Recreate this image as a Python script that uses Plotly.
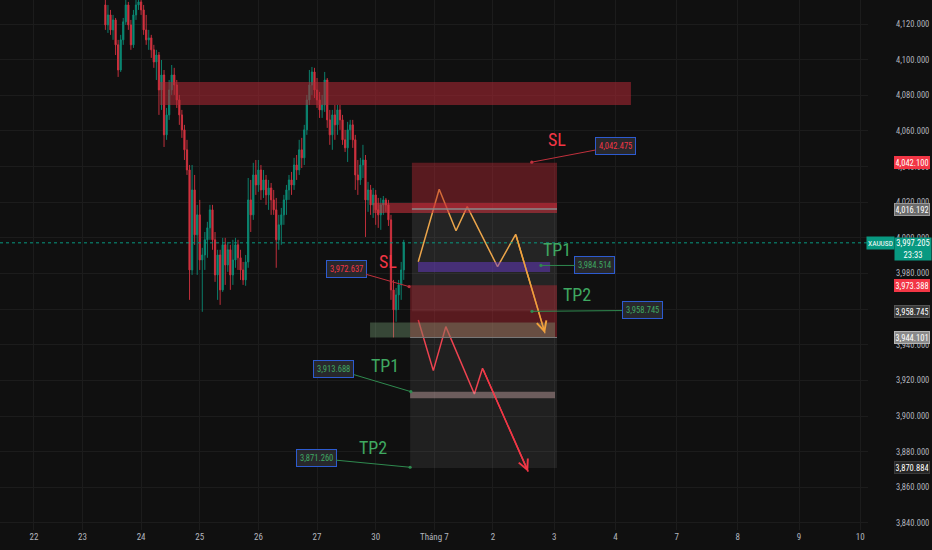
import plotly.graph_objects as go

# ---------------- data ----------------
# hourly bars (index = hours since the "22" session open)
bar_start = 28
opens = [
    4130.7, 4119.5, 4125.1, 4116.7, 4122.3, 4108.3, 4094.2, 4111.1, 4121.2, 4130.7,
    4119.5, 4108.3, 4125.1, 4130.7, 4132.4, 4127.9, 4116.7, 4111.1, 4112.2, 4105.5,
    4098.7, 4102.6, 4083.0, 4091.4, 4057.8, 4069.0, 4083.0, 4091.4, 4085.8, 4077.4,
    4069.0, 4060.6, 4049.4, 4038.1, 3982.0, 4026.9, 4001.7, 4012.9, 3987.6, 3990.4,
    3998.9, 4005.6, 4015.7, 3998.9, 3979.2, 3990.4, 3970.8, 3996.1, 3984.8, 3993.3,
    3979.2, 3987.6, 3996.1, 3988.8, 3982.0, 3976.4, 3986.5, 4021.3, 4012.9, 4035.3,
    4029.7, 4038.1, 4026.9, 4032.5, 4024.1, 4028.0, 4021.3, 4015.7, 3998.9, 4007.3,
    4012.9, 4021.3, 4026.9, 4032.5, 4029.7, 4040.9, 4038.1, 4049.4, 4044.9, 4060.6,
    4077.4, 4085.8, 4093.1, 4083.0, 4077.4, 4071.8, 4074.6, 4088.6, 4066.2, 4057.8,
    4069.0, 4063.4, 4071.8, 4066.2, 4055.0, 4050.5, 4060.6, 4063.4, 4055.0, 4035.3,
    4032.5, 4040.9, 4043.7, 4021.3, 4026.9, 4018.5, 4024.1, 4015.7, 4012.9, 4018.5,
    4021.3, 4018.5, 4010.1, 3970.8, 3959.6, 3968.0, 3973.6, 3982.0,
]
highs = [
    4136.3, 4130.7, 4127.9, 4125.1, 4123.4, 4111.1, 4113.9, 4123.4, 4135.2, 4132.4,
    4122.3, 4127.9, 4134.6, 4136.3, 4135.2, 4130.7, 4125.1, 4116.7, 4113.9, 4108.3,
    4105.5, 4104.3, 4099.8, 4094.2, 4072.9, 4088.6, 4097.0, 4095.4, 4088.6, 4080.2,
    4071.8, 4063.4, 4055.0, 4040.9, 4040.9, 4035.3, 4018.5, 4021.3, 3994.4, 4003.3,
    4009.0, 4018.5, 4018.5, 4003.3, 3993.3, 3993.3, 4000.0, 4000.0, 3997.7, 3996.1,
    3998.9, 4000.0, 3998.9, 3993.3, 3986.5, 3990.4, 4033.6, 4032.5, 4042.1, 4043.7,
    4043.7, 4040.9, 4038.1, 4035.3, 4032.5, 4030.8, 4026.9, 4022.4, 4012.9, 4016.8,
    4024.1, 4029.7, 4035.3, 4037.0, 4044.9, 4046.5, 4055.0, 4056.1, 4063.4, 4080.2,
    4094.2, 4095.9, 4095.4, 4089.7, 4081.9, 4080.2, 4093.1, 4089.7, 4071.8, 4071.8,
    4074.6, 4074.6, 4074.6, 4069.0, 4060.6, 4065.1, 4066.2, 4066.2, 4057.8, 4043.7,
    4044.9, 4052.2, 4046.5, 4031.4, 4029.7, 4028.0, 4026.9, 4022.4, 4022.4, 4023.5,
    4022.4, 4021.3, 4012.9, 3976.4, 3971.9, 3976.4, 3986.5, 3998.9,
]
lows = [
    4116.7, 4115.0, 4113.9, 4111.1, 4102.6, 4090.3, 4093.1, 4108.3, 4119.5, 4116.7,
    4105.5, 4106.6, 4122.3, 4127.9, 4125.1, 4113.9, 4108.3, 4105.5, 4101.0, 4095.4,
    4088.6, 4069.0, 4071.8, 4051.0, 4055.0, 4066.2, 4080.2, 4080.2, 4072.9, 4063.4,
    4056.1, 4043.7, 4035.3, 3965.2, 3979.2, 3996.1, 3979.2, 3982.0, 3958.5, 3982.0,
    3988.8, 3998.9, 3993.3, 3975.3, 3965.2, 3962.4, 3969.7, 3973.6, 3980.9, 3970.8,
    3973.6, 3983.2, 3982.0, 3976.4, 3973.6, 3973.1, 3983.2, 4003.3, 4010.1, 4024.1,
    4025.8, 4021.3, 4022.4, 4018.5, 4015.7, 4012.9, 4012.9, 3983.2, 3993.3, 3996.1,
    4007.3, 4012.9, 4021.3, 4024.1, 4026.9, 4032.5, 4035.3, 4039.2, 4040.9, 4057.8,
    4074.6, 4080.2, 4078.5, 4072.9, 4067.3, 4067.3, 4070.7, 4061.7, 4052.2, 4049.4,
    4055.0, 4057.8, 4060.6, 4052.2, 4048.2, 4042.6, 4055.0, 4050.5, 4026.9, 4024.1,
    4029.7, 4033.6, 4000.5, 4014.6, 4012.9, 4011.2, 4007.3, 4005.6, 4004.5, 4012.9,
    4014.6, 4006.7, 3965.2, 3944.1, 3952.9, 3959.6, 3965.2, 3976.4,
]
closes = [
    4119.5, 4125.1, 4116.7, 4122.3, 4108.3, 4094.2, 4111.1, 4121.2, 4130.7, 4119.5,
    4108.3, 4125.1, 4130.7, 4132.4, 4127.9, 4116.7, 4111.1, 4112.2, 4105.5, 4098.7,
    4102.6, 4083.0, 4091.4, 4057.8, 4069.0, 4083.0, 4091.4, 4085.8, 4077.4, 4069.0,
    4060.6, 4049.4, 4038.1, 3982.0, 4026.9, 4001.7, 4012.9, 3987.6, 3990.4, 3998.9,
    4005.6, 4015.7, 3998.9, 3979.2, 3990.4, 3970.8, 3996.1, 3984.8, 3993.3, 3979.2,
    3987.6, 3996.1, 3988.8, 3982.0, 3976.4, 3986.5, 4021.3, 4012.9, 4035.3, 4029.7,
    4038.1, 4026.9, 4032.5, 4024.1, 4028.0, 4021.3, 4015.7, 3998.9, 4007.3, 4012.9,
    4021.3, 4026.9, 4032.5, 4029.7, 4040.9, 4038.1, 4049.4, 4044.9, 4060.6, 4077.4,
    4085.8, 4093.1, 4083.0, 4077.4, 4071.8, 4074.6, 4088.6, 4066.2, 4057.8, 4069.0,
    4063.4, 4071.8, 4066.2, 4055.0, 4050.5, 4060.6, 4063.4, 4055.0, 4035.3, 4032.5,
    4040.9, 4043.7, 4021.3, 4026.9, 4018.5, 4024.1, 4015.7, 4012.9, 4018.5, 4021.3,
    4018.5, 4010.1, 3970.8, 3959.6, 3968.0, 3973.6, 3982.0, 3997.2,
]
bars = list(range(bar_start, bar_start + len(closes)))

# time axis
day_ticks = [0, 19, 42, 65, 88, 111, 134, 157, 180, 204, 228, 252, 276, 300, 324]
day_labels = ["22", "23", "24", "25", "26", "27", "30", "Tháng 7", "2", "3", "4", "7", "8", "9", "10"]
price_ticks = [3840, 3860, 3880, 3900, 3920, 3940, 3960, 3980, 4000, 4020, 4040, 4060, 4080, 4100, 4120]

# levels
last_price = 3997.205
countdown = "23:33"
symbol = "XAUUSD"
res_zone = (4074.6, 4087.5)
small_zone = (4014.0, 4019.6)
green_zone = (3944.1, 3952.5)
pos1_stop, pos1_entry, pos1_target = 4042.100, 4016.192, 3958.745
pos2_stop, pos2_entry, pos2_target = 3973.388, 3944.101, 3870.884
tp1_band = (3980.9, 3986.5)
tp1b_band = (3910.0, 3913.7)

# scenario paths (bar index, price)
path1_x = [150.7, 158.9, 165.5, 169.9, 181.8, 188.9, 200.4]
path1_y = [3986.6, 4027.3, 4004.0, 4017.5, 3983.8, 4002.0, 3946.4]
path2_x = [150.7, 156.6, 161.5, 172.7, 175.9, 193.8]
path2_y = [3953.9, 3925.5, 3950.2, 3912.4, 3926.8, 3868.8]

# callouts: price, anchor bar, text colour kind
callout_prices = [4042.475, 3984.514, 3958.745, 3972.637, 3913.688, 3871.260]
callout_bars = [195.2, 198.8, 195.3, 147.1, 147.8, 147.5]
callout_kind = ["sl", "tp", "tp", "sl", "tp", "tp"]
callout_offsets = [(84, -16), (54, 0), (110, -1), (-63, -18), (-77, -23), (-94, -9)]

# handwritten labels
label_texts = ["SL", "TP1", "TP2", "SL", "TP1", "TP2"]
label_bars = [205.1, 205.1, 212.9, 138.8, 137.6, 132.9]
label_prices = [4055.0, 3993.2, 3968.0, 3986.5, 3928.1, 3882.1]

# axis tags
tag_prices = [4042.100, 4016.192, 3973.388, 3958.745, 3944.101, 3870.884]
tag_bg = ["#f23645", "#6a6a6a", "#f23645", "#3a3a3a", "#8a8a8a", "#262626"]
tag_border = ["#f23645", "#9a9a9a", "#f23645", "#555555", "#b5b5b5", "#3a3a3a"]

# ---------------- styling ----------------
BG = "#101010"
GRID = "#1c1c1c"
UP = "#089981"
UP_C = "#0b8a75"
DN_C = "#d3323f"
TXT = "#b2b5be"
GREEN_TXT = "#3fa861"
RED_TXT = "#f23645"
NARROW = "Liberation Sans Narrow, Roboto Condensed, Roboto, sans-serif"
HAND = "Liberation Sans Narrow, Roboto Condensed, Roboto, sans-serif"

x_lo, x_hi = -13.33, 327.06
y_lo, y_hi = 3836.06, 4133.47

fig = go.Figure()

fig.add_trace(go.Candlestick(
    x=bars, open=opens, high=highs, low=lows, close=closes,
    increasing=dict(line=dict(color=UP_C, width=0.9), fillcolor=UP_C),
    decreasing=dict(line=dict(color=DN_C, width=0.9), fillcolor=DN_C),
    whiskerwidth=0, hoverinfo="skip", showlegend=False,
))

shapes = []
def rect(x0, x1, y0, y1, fill, layer="above"):
    shapes.append(dict(type="rect", xref="x", yref="y", x0=x0, x1=x1, y0=y0, y1=y1,
                       fillcolor=fill, line=dict(width=0), layer=layer))

def hline(x0, x1, y, color, width=1, dash="solid", xref="x"):
    shapes.append(dict(type="line", xref=xref, yref="y", x0=x0, x1=x1, y0=y, y1=y,
                       line=dict(color=color, width=width, dash=dash), layer="above"))

# resistance zone
rect(49.4, 234.1, res_zone[0], res_zone[1], "rgba(178,40,52,0.55)")
# position 1 (short)
rect(148.2, 205.1, pos1_entry, pos1_stop, "rgba(178,40,52,0.45)")
rect(148.2, 205.1, pos1_target, pos1_entry, "rgba(200,200,200,0.11)")
# position 2 (short)
rect(147.5, 205.1, pos2_entry, pos2_stop, "rgba(178,40,52,0.45)")
rect(147.5, 205.1, pos2_target, pos2_entry, "rgba(200,200,200,0.09)")
# small red zone around entry 1
rect(132.9, 205.1, small_zone[0], small_zone[1], "rgba(210,50,62,0.55)")
hline(148.2, 205.1, pos1_entry, "#8a8a8a", 1.5)
# green zone
rect(131.8, 204.3, green_zone[0], green_zone[1], "rgba(140,190,140,0.32)")
hline(147.5, 205.1, pos2_entry, "#7a7a7a", 1)
# TP bands
rect(150.6, 202.4, tp1_band[0], tp1_band[1], "rgba(103,58,200,0.50)")
rect(147.5, 204.3, tp1b_band[0], tp1b_band[1], "rgba(225,185,185,0.40)")
# current price dotted line
hline(0, 1, last_price, UP, 1, "dot", xref="paper")

annotations = []

# scenario paths
fig.add_trace(go.Scatter(x=path1_x, y=path1_y, mode="lines",
                         line=dict(color="#f0a13c", width=1.5), hoverinfo="skip", showlegend=False))
fig.add_trace(go.Scatter(x=path2_x, y=path2_y, mode="lines",
                         line=dict(color="#f23645", width=1.5), hoverinfo="skip", showlegend=False))
for px_, py_, col in [(path1_x, path1_y, "#f0a13c"), (path2_x, path2_y, "#f23645")]:
    annotations.append(dict(x=px_[-1], y=py_[-1], ax=px_[-2], ay=py_[-2], axref="x", ayref="y",
                            xref="x", yref="y", text="", showarrow=True, arrowhead=5,
                            arrowsize=1.3, arrowwidth=1.5, arrowcolor=col))

# callouts
for p, b, kind, (ox, oy) in zip(callout_prices, callout_bars, callout_kind, callout_offsets):
    col = RED_TXT if kind == "sl" else GREEN_TXT
    lcol = "#c0303c" if kind == "sl" else "#2f8a4f"
    annotations.append(dict(
        x=b, y=p, xref="x", yref="y", ax=ox, ay=oy,
        text=f"{p:,.3f}", showarrow=True, arrowhead=6, arrowsize=0.8,
        arrowwidth=1, arrowcolor=lcol, standoff=0,
        font=dict(family=NARROW, size=8.5, color=col),
        bgcolor="#28282c", bordercolor="#2d5bd0", borderwidth=1, borderpad=3,
    ))

# handwritten labels
for t, b, p in zip(label_texts, label_bars, label_prices):
    col = RED_TXT if t == "SL" else GREEN_TXT
    annotations.append(dict(x=b, y=p, xref="x", yref="y", text=t, showarrow=False,
                            font=dict(family=HAND, size=18, color=col)))

# axis tags
tag_x = 1 + 26 / 868
for p, bg, bc in zip(tag_prices, tag_bg, tag_border):
    annotations.append(dict(x=tag_x, y=p, xref="paper", yref="y", xanchor="left",
                            text=f"{p:,.3f}", showarrow=False, width=33, height=10,
                            bgcolor=bg, bordercolor=bc, borderwidth=1, borderpad=0.5,
                            font=dict(family=NARROW, size=8.5, color="#ffffff")))
annotations.append(dict(x=tag_x, y=last_price, xref="paper", yref="y", xanchor="left", yanchor="top",
                        yshift=6, text=f"{last_price:,.3f}<br>{countdown}", showarrow=False,
                        width=34, height=20, bgcolor=UP, borderpad=1,
                        font=dict(family=NARROW, size=8.5, color="#ffffff")))
annotations.append(dict(x=1 - 2 / 868, y=last_price, xref="paper", yref="y", xanchor="left",
                        text=symbol, showarrow=False, width=25, height=10, bgcolor=UP,
                        borderpad=1, font=dict(family=NARROW, size=7.5, color="#ffffff")))

fig.update_layout(
    width=932, height=550,
    margin=dict(l=0, r=64, t=0, b=20),
    paper_bgcolor=BG, plot_bgcolor=BG,
    showlegend=False,
    shapes=shapes, annotations=annotations,
    xaxis=dict(range=[x_lo, x_hi], tickvals=day_ticks, ticktext=day_labels,
               showgrid=True, gridcolor=GRID, gridwidth=1, zeroline=False,
               showline=False, ticks="", rangeslider=dict(visible=False),
               tickfont=dict(family=NARROW, size=9, color=TXT), fixedrange=True),
    yaxis=dict(range=[y_lo, y_hi], side="right", tickvals=price_ticks, tickformat=",.3f",
               showgrid=True, gridcolor=GRID, gridwidth=1, zeroline=False, showline=False,
               ticks="", ticklabelstandoff=27,
               tickfont=dict(family=NARROW, size=8.5, color=TXT), fixedrange=True),
)

fig.write_html("out.html", config={"displayModeBar": False},
               post_script="document.body.style.margin='0';document.body.style.background='#101010';document.body.style.overflow='hidden';")
